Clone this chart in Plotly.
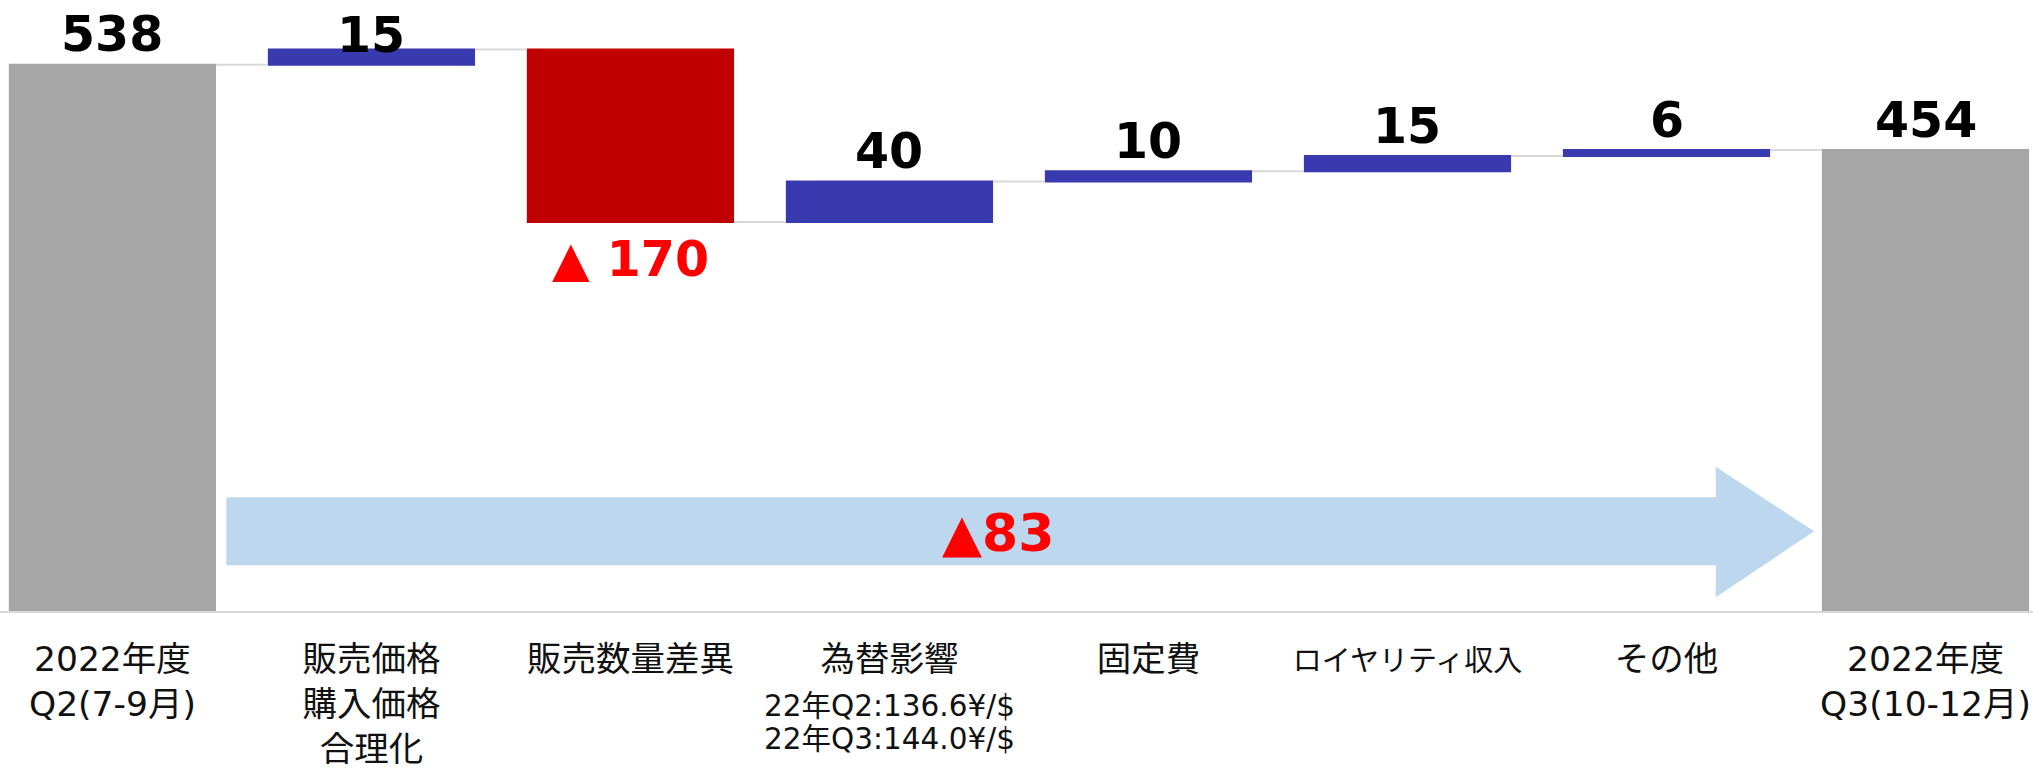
import plotly.graph_objects as go

# ---------------- data ----------------
categories = [
    "2022年度<br>Q2(7-9月)",
    "販売価格<br>購入価格<br>合理化",
    "販売数量差異",
    "為替影響",
    "固定費",
    "ロイヤリティ収入",
    "その他",
    "2022年度<br>Q3(10-12月)",
]
measures = ["absolute", "relative", "relative", "relative",
            "relative", "relative", "relative", "total"]
values = [538, 15, -170, 40, 10, 15, 6, 454]
total_change = [-83]          # as printed on the slide (rounded figures)
fx_notes = ["22年Q2:136.6¥/$", "22年Q3:144.0¥/$"]
fx_category = "為替影響"
narrow_category = "ロイヤリティ収入"

# ---------------- style ----------------
BLUE = "#3A3AB0"
RED = "#C00000"
GREY = "#A6A6A6"
CONNECT = "#D9D9D9"
ARROW = "#BDD7EE"
LABEL_RED = "#FF0000"
CJK = "DejaVu Sans, Noto Sans CJK JP, sans-serif"
BOLD = "DejaVu Sans, sans-serif"

W, H = 2033, 769
PLOT_BOTTOM = 151
PX_PER_UNIT = 1.027
Y_TOP = (H - PLOT_BOTTOM) / PX_PER_UNIT
X_RANGE = [-0.434, 7.415]

x = list(range(len(categories)))

fig = go.Figure(go.Waterfall(
    x=x,
    y=values,
    measure=measures,
    increasing=dict(marker=dict(color=BLUE)),
    decreasing=dict(marker=dict(color=RED)),
    totals=dict(marker=dict(color=GREY)),
    connector=dict(line=dict(color=CONNECT, width=2)),
    textinfo="none",
    hoverinfo="skip",
))

# bar extents derived from the data
tops, bottoms = [], []
cum = 0
for m, v in zip(measures, values):
    if m == "absolute":
        cum = v
        bottoms.append(0); tops.append(v)
    elif m == "total":
        bottoms.append(0); tops.append(cum)
    else:
        new = cum + v
        bottoms.append(min(cum, new)); tops.append(max(cum, new))
        cum = new

label_shift_up = [30, 14, 37, 30, 30, 30, 30, 30]

annotations = []
for i, (m, v) in enumerate(zip(measures, values)):
    if m == "total":
        v = tops[i]
    if v < 0:
        annotations.append(dict(
            x=i, y=bottoms[i], xref="x", yref="y", yanchor="middle",
            yshift=-label_shift_up[i], text=f"▲ {abs(v)}", showarrow=False,
            font=dict(family=BOLD, size=49, color=LABEL_RED, weight="bold")))
    else:
        annotations.append(dict(
            x=i, y=tops[i], xref="x", yref="y", yanchor="middle",
            yshift=label_shift_up[i], text=f"{v}", showarrow=False,
            font=dict(family=BOLD, size=49, color="#000000", weight="bold")))

# FX notes under the category label
fx_i = categories.index(fx_category)
for k, note in enumerate(fx_notes):
    annotations.append(dict(
        x=fx_i, y=0, xref="x", yref="paper", yanchor="middle",
        yshift=-95 - 33 * k, text=note, showarrow=False,
        font=dict(family=CJK, size=29.5, color="#111111")))

# overall change arrow
ax0 = x[0] + 0.44
ax_body = x[-1] - 0.81
ax_tip = x[-1] - 0.43
body_lo, body_hi = 45, 112
head_lo, head_hi = 13.6, 142
mid = (body_lo + body_hi) / 2
path = (f"M {ax0},{body_lo} L {ax_body},{body_lo} L {ax_body},{head_lo} "
        f"L {ax_tip},{mid} L {ax_body},{head_hi} L {ax_body},{body_hi} "
        f"L {ax0},{body_hi} Z")
shapes = [dict(type="path", path=path, xref="x", yref="y",
               fillcolor=ARROW, line=dict(width=0), layer="below")]
chg = total_change[0]
annotations.append(dict(
    x=3.42, y=mid, xref="x", yref="y", yanchor="middle", xanchor="center",
    yshift=-2,
    text=f"▲{abs(chg)}" if chg < 0 else f"{chg}", showarrow=False,
    font=dict(family=BOLD, size=52, color=LABEL_RED, weight="bold")))

ticktext = [
    f'<span style="font-size:29px">{c}</span>' if c == narrow_category else c
    for c in categories
]

fig.update_layout(
    width=W, height=H,
    margin=dict(l=0, r=0, t=0, b=PLOT_BOTTOM),
    paper_bgcolor="white", plot_bgcolor="white",
    showlegend=False,
    waterfallgap=0.2,
    annotations=annotations,
    shapes=shapes,
    xaxis=dict(
        range=X_RANGE, tickmode="array", tickvals=x, ticktext=ticktext,
        showgrid=False, zeroline=False, showline=True, linecolor=CONNECT,
        linewidth=2, ticks="", ticklabelstandoff=17,
        tickfont=dict(family=CJK, size=34.5, color="#111111"),
    ),
    yaxis=dict(range=[0, Y_TOP], visible=False, showgrid=False),
)

fig.write_html(
    "out.html",
    config={"displayModeBar": False},
    post_script="document.body.style.margin='0';document.body.style.overflow='hidden';",
)
